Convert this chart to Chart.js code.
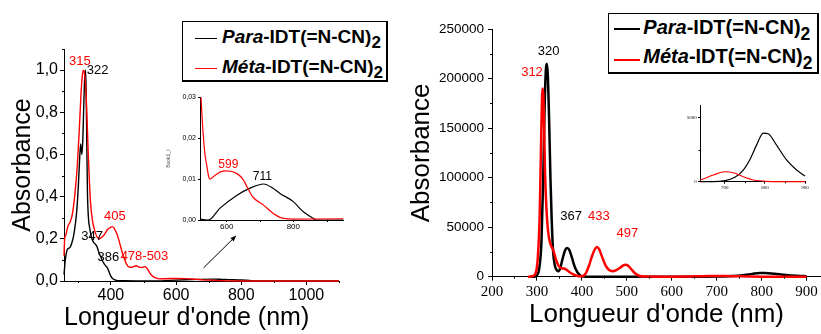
<!DOCTYPE html>
<html><head><meta charset="utf-8">
<script src="https://cdn.jsdelivr.net/npm/chart.js@4"></script>
<style>
html,body{margin:0;padding:0;background:#fff}
#root{position:relative;width:821px;height:334px;overflow:hidden;font-family:"Liberation Sans",Arial,sans-serif}
canvas{position:absolute}
.lg{position:absolute;box-sizing:border-box;border:1px solid #000;border-right-width:2px;border-bottom-width:2px;background:#fff}
.ln{position:absolute}
.tx{position:absolute;white-space:nowrap;font-weight:bold;line-height:1;color:#000}
.sb{position:relative}
</style></head><body>
<div id="root">
<canvas id="cL" width="410" height="334" style="left:0;top:0"></canvas>
<canvas id="cLi" width="200" height="150" style="left:150px;top:85px"></canvas>
<canvas id="cR" width="411" height="334" style="left:410px;top:0"></canvas>
<canvas id="cRi" width="145" height="100" style="left:670px;top:95px"></canvas>
<div class="lg" style="left:182px;top:21px;width:206px;height:61px">
  <div class="ln" style="left:12px;top:16px;width:22px;height:1px;background:#000"></div>
  <div class="tx" style="left:39px;top:4.6px;font-size:19px"><i>Para</i>-IDT(=N-CN)<span class="sb" style="font-size:17px;top:5px">2</span></div>
  <div class="ln" style="left:12px;top:46px;width:22px;height:1px;background:#f00"></div>
  <div class="tx" style="left:39px;top:34.6px;font-size:19px"><i>Méta</i>-IDT(=N-CN)<span class="sb" style="font-size:17px;top:5px">2</span></div>
</div>
<div class="lg" style="left:608px;top:13px;width:211px;height:61px">
  <div class="ln" style="left:5px;top:14.3px;width:26px;height:2px;background:#000"></div>
  <div class="tx" style="left:34.3px;top:3.4px;font-size:20px"><i>Para</i>-IDT(=N-CN)<span class="sb" style="font-size:17.5px;top:5.5px">2</span></div>
  <div class="ln" style="left:5px;top:45px;width:26px;height:2px;background:#f00"></div>
  <div class="tx" style="left:34.3px;top:32.4px;font-size:20px"><i>Méta</i>-IDT(=N-CN)<span class="sb" style="font-size:17.5px;top:5.5px">2</span></div>
</div>
</div>
<script>
// ---------- DATA: left panel (normalised absorbance) ----------
const paraNmL  = [256,260,265,270,275,280,285,290,295,300,304,307,309,311,314,317,320,322,324,326,328,331,335,340,346,352,358,364,370,376,382,386,390,395,400,405,412,420,440,500,545,580,630,670,711,740,760,800,830,860,870,950,1100];
const paraAbsL = [0.03,0.10,0.145,0.155,0.16,0.18,0.21,0.26,0.33,0.45,0.58,0.65,0.62,0.60,0.68,0.85,0.98,1.00,0.90,0.65,0.42,0.30,0.25,0.21,0.185,0.175,0.16,0.13,0.11,0.09,0.075,0.068,0.06,0.04,0.022,0.012,0.005,0.002,0.001,0.0005,0,0.0029,0.006,0.0078,0.0088,0.0077,0.0065,0.0045,0.002,0.0004,0,0,0];
const metaNmL  = [256,258,262,268,275,282,290,297,303,308,312,315,318,322,326,330,334,338,343,350,357,364,370,380,390,400,405,410,418,425,432,440,448,456,465,472,478,486,495,503,510,515,520,525,530,535,540,545,550,560,580,599,630,650,665,680,710,740,770,810,950,1100];
const metaAbsL = [0.12,0.20,0.22,0.26,0.28,0.32,0.42,0.55,0.72,0.88,0.97,1.0,0.99,0.94,0.80,0.62,0.47,0.36,0.29,0.24,0.21,0.20,0.205,0.22,0.245,0.255,0.258,0.25,0.225,0.19,0.15,0.11,0.08,0.066,0.065,0.07,0.072,0.066,0.064,0.068,0.062,0.05,0.036,0.027,0.0205,0.016,0.0135,0.011,0.010,0.0106,0.0117,0.012,0.0114,0.0098,0.0075,0.0055,0.0037,0.0016,0.0004,0.0002,0.0003,0.0002];

// ---------- DATA: right panel (molar absorption) ----------
const paraNmR  = [285,295,300,305,310,314,317,320,322,324,327,330,333,336,340,345,348,352,357,362,367,372,378,384,390,396,402,420,500,600,671,700,725,746,762,779,796,808,829,854,879,900];
const paraEpsR = [0,0,1500,8000,35000,100000,170000,210000,215000,205000,160000,100000,55000,25000,11000,6000,5500,9000,18000,26000,29000,27000,19000,10000,4500,1500,300,0,0,0,0,80,340,910,1700,2860,3800,3750,2860,1700,910,440];
const metaNmR  = [280,290,298,302,306,309,311,312,314,316,318,321,325,330,336,342,348,355,362,370,380,390,400,408,415,422,428,433,438,445,452,460,468,476,485,492,497,503,510,518,527,540,600,638,671,700,721,746,771,804,900];
const metaEpsR = [0,500,5000,20000,60000,130000,175000,190000,185000,150000,105000,70000,45000,33000,27000,18000,11000,8500,8000,5500,2500,800,500,3000,10000,20000,27000,30000,28000,20000,12000,7000,5500,6500,9000,11500,12000,11000,7500,3500,1000,100,0,130,520,780,700,390,130,30,0];

// ---------- TICKS ----------
const xTicksL = [400,600,800,1000];        const xMinorL = [300,500,700,900,1100];
const yTicksL = [0,0.2,0.4,0.6,0.8,1.0];   const yMinorL = [0.1,0.3,0.5,0.7,0.9,1.1];
const xTicksLi = [600,800];                const xMinorLi = [700,900];
const yTicksLi = [0,0.01,0.02,0.03];
const xTicksR = [200,300,400,500,600,700,800,900]; const xMinorR = [250,350,450,550,650,750,850];
const yTicksR = [0,50000,100000,150000,200000,250000]; const yMinorR = [25000,75000,125000,175000,225000];
const xTicksRi = [700,800,900];            const xMinorRi = [750,850];
const yTicksRi = [0,5000];                 const yMinorRi = [2500];

// ---------- PEAK LABELS (anchored in data units) ----------
const peakLabelsL = [
  {text:'315', x:305, y:1.041, red:true}, {text:'322', x:359, y:0.998},
  {text:'347', x:342, y:0.21}, {text:'386', x:392, y:0.111},
  {text:'405', x:412, y:0.305, red:true}, {text:'478-503', x:503, y:0.115, red:true}];
const peakLabelsLi = [{text:'599', x:605, y:0.0136, red:true}, {text:'711', x:707, y:0.0106}];
const peakLabelsR = [
  {text:'320', x:326, y:227700}, {text:'312', x:289, y:205800, red:true},
  {text:'367', x:376, y:60500}, {text:'433', x:438, y:60500, red:true},
  {text:'497', x:501, y:43800, red:true}];

Chart.defaults.color = '#000';
Chart.defaults.font.family = '"Liberation Sans", Arial, sans-serif';

const RED = '#ff0000', BLACK = '#000000';
const pts = (xs, ys) => xs.map((x, i) => ({x: x, y: ys[i]}));

function decor(cfg) {
  return {
    id: 'decor',
    afterDatasetsDraw(chart) {
      const ctx = chart.ctx, xs = chart.scales.x, ys = chart.scales.y, a = chart.chartArea;
      ctx.save();
      ctx.strokeStyle = '#000'; ctx.lineWidth = 1;
      (cfg.minorX || []).forEach(v => {
        const p = Math.round(xs.getPixelForValue(v)) + 0.5;
        ctx.beginPath(); ctx.moveTo(p, a.bottom); ctx.lineTo(p, a.bottom + cfg.minorLen); ctx.stroke();
      });
      (cfg.minorY || []).forEach(v => {
        const p = Math.round(ys.getPixelForValue(v)) + 0.5;
        ctx.beginPath(); ctx.moveTo(a.left, p); ctx.lineTo(a.left - cfg.minorLen, p); ctx.stroke();
      });
      ctx.font = cfg.labelFont || '13px "Liberation Sans"';
      ctx.textAlign = 'center'; ctx.textBaseline = 'middle';
      (cfg.labels || []).forEach(l => {
        ctx.fillStyle = l.red ? RED : BLACK;
        ctx.fillText(l.text, xs.getPixelForValue(l.x), ys.getPixelForValue(l.y));
      });
      if (cfg.arrow) {
        const x1 = xs.getPixelForValue(cfg.arrow[0]), y1 = ys.getPixelForValue(cfg.arrow[1]);
        const x2 = xs.getPixelForValue(cfg.arrow[2]), y2 = ys.getPixelForValue(cfg.arrow[3]);
        const ang = Math.atan2(y2 - y1, x2 - x1), h = 6;
        ctx.beginPath(); ctx.moveTo(x1, y1); ctx.lineTo(x2, y2); ctx.stroke();
        ctx.fillStyle = '#000'; ctx.beginPath();
        ctx.moveTo(x2, y2);
        ctx.lineTo(x2 - h * Math.cos(ang - 0.4), y2 - h * Math.sin(ang - 0.4));
        ctx.lineTo(x2 - h * Math.cos(ang + 0.4), y2 - h * Math.sin(ang + 0.4));
        ctx.closePath(); ctx.fill();
      }
      ctx.restore();
    }
  };
}

function axis(o) {
  return {
    type: 'linear', min: o.min, max: o.max,
    afterBuildTicks: s => { s.ticks = o.ticks.map(v => ({value: v})); },
    afterFit: s => { s[o.fitDim] = o.fitSize; s.paddingLeft = 0; s.paddingRight = 0; s.paddingTop = 0; s.paddingBottom = 0; },
    ticks: {font: {size: o.fs, family: o.ff || '"Liberation Sans", Arial, sans-serif'}, padding: o.pad, color: '#000',
            callback: o.fmt || (v => String(v)), maxRotation: 0, autoSkip: false},
    grid: {display: true, drawOnChartArea: false, drawTicks: true, tickLength: o.tl, color: '#000', lineWidth: 1},
    border: {display: true, color: '#000', width: 1},
    title: o.title || {display: false}
  };
}

function ds(xs, ys, color, w, order, clip) {
  return {data: pts(xs, ys), borderColor: color, borderWidth: w, pointRadius: 0, fill: false,
          cubicInterpolationMode: 'monotone', order: order, clip: clip};
}

function make(id, datasets, pad, sx, sy, deco) {
  return new Chart(document.getElementById(id), {
    type: 'line',
    data: {datasets: datasets},
    options: {
      responsive: false, animation: false, events: [],
      layout: {padding: pad},
      plugins: {legend: {display: false}, tooltip: {enabled: false}},
      scales: {x: sx, y: sy}
    },
    plugins: [decor(deco)]
  });
}

const comma = d => v => v.toFixed(d).replace('.', ',');
const clipIn = {left: 0, top: 0, right: 2, bottom: 2};

// Left main
make('cL',
  [ds(paraNmL, paraAbsL, BLACK, 1.4, 1, false), ds(metaNmL, metaAbsL, RED, 1.4, 0, false)],
  {top: 49, right: 71, bottom: 0, left: 0},
  axis({min: 256, max: 1100, ticks: xTicksL, fs: 16, pad: 1, tl: 4, fitDim: 'height', fitSize: 53,
        title: {display: true, text: "Longueur d'onde (nm)", align: 'start', font: {size: 25, lineHeight: 1.2}, padding: {top: 0, bottom: 1.3}}}),
  axis({min: 0, max: 1.1, ticks: yTicksL, fs: 16, pad: 2, tl: 4, fmt: comma(1), fitDim: 'width', fitSize: 64,
        title: {display: true, text: 'Absorbance', font: {size: 25, lineHeight: 1.2}, padding: {top: 8, bottom: 0}}}),
  {minorX: xMinorL, minorY: yMinorL, minorLen: 2, labels: peakLabelsL, labelFont: '13px "Liberation Sans"',
   arrow: [684, 0.062, 784, 0.214]});

// Left inset
make('cLi',
  [ds(paraNmL, paraAbsL, BLACK, 1.2, 1, clipIn), ds(metaNmL, metaAbsL, RED, 1.2, 0, clipIn)],
  {top: 12.3, right: 6.7, bottom: 0, left: 0},
  axis({min: 520, max: 950, ticks: xTicksLi, fs: 8, pad: 0, tl: 2, fitDim: 'height', fitSize: 15}),
  axis({min: 0, max: 0.03, ticks: yTicksLi, fs: 7, pad: 2, tl: 2, fmt: comma(2), fitDim: 'width', fitSize: 50,
        title: {display: true, text: 'Book1_I', color: '#444', font: {size: 5, lineHeight: 1.2}, padding: {top: 16, bottom: 0}}}),
  {minorX: xMinorLi, minorY: [], minorLen: 2, labels: peakLabelsLi, labelFont: '12px "Liberation Sans"'});

// Right main
make('cR',
  [ds(paraNmR, paraEpsR, BLACK, 2.5, 1, false), ds(metaNmR, metaEpsR, RED, 2.5, 0, false)],
  {top: 29, right: 0, bottom: 0, left: 0},
  axis({min: 200, max: 932, ticks: xTicksR, fs: 15, ff: '"Liberation Serif", "Times New Roman", serif', pad: 2, tl: 4, fitDim: 'height', fitSize: 57.3,
        title: {display: true, text: "Longueur d'onde (nm)", font: {size: 26, lineHeight: 1.2}, padding: {top: 0, bottom: 4}}}),
  axis({min: 0, max: 250000, ticks: yTicksR, fs: 13.5, pad: 4, tl: 4, fitDim: 'width', fitSize: 82,
        title: {display: true, text: 'Absorbance', font: {size: 26, lineHeight: 0.9}, padding: {top: 0, bottom: 0}}}),
  {minorX: xMinorR, minorY: yMinorR, minorLen: 2, labels: peakLabelsR, labelFont: '13px "Liberation Sans"'});

// Right inset
make('cRi',
  [ds(paraNmR, paraEpsR, BLACK, 1.2, 1, clipIn), ds(metaNmR, metaEpsR, RED, 1.2, 0, clipIn)],
  {top: 10, right: 10, bottom: 0, left: 0},
  axis({min: 638, max: 900, ticks: xTicksRi, fs: 5, ff: '"Liberation Serif", serif', pad: 0.6, tl: 2, fitDim: 'height', fitSize: 13.3}),
  axis({min: 0, max: 6000, ticks: yTicksRi, fs: 5, ff: '"Liberation Serif", serif', pad: 1.3, tl: 2, fitDim: 'width', fitSize: 30}),
  {minorX: xMinorRi, minorY: yMinorRi, minorLen: 1.5, labels: []});
</script>
</body></html>
